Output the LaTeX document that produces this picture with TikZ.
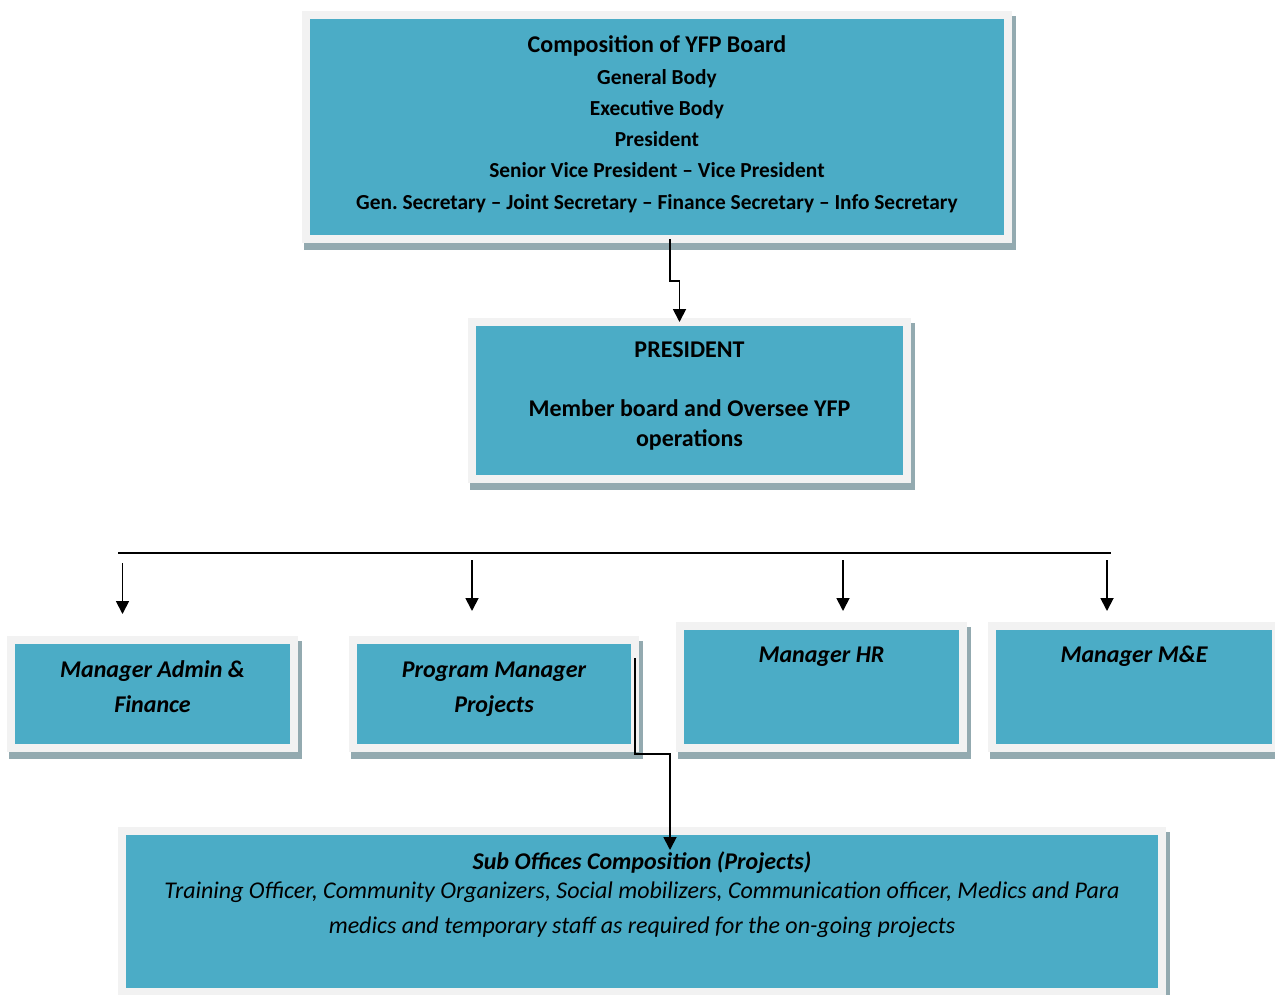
\documentclass[tikz,border=0pt]{standalone}
\usepackage{fontspec}
\setmainfont{Carlito}
\frenchspacing
\usetikzlibrary{arrows.meta,backgrounds}

\definecolor{boxteal}{HTML}{4BACC6}
\definecolor{boxframe}{HTML}{F2F2F2}
\definecolor{boxshade}{HTML}{93AAB0}

\tikzset{
  orgbox/.style={draw=boxframe,fill=boxteal,line width=8pt,inner sep=0pt,outer sep=0pt,anchor=north west},
  orgtxt/.style={align=center,anchor=base,inner sep=0pt},
  mgrtxt/.style={orgtxt,font=\bfseries\itshape\fontsize{24}{35}\selectfont},
  conn/.style={line width=1.8pt,-{Triangle[width=13pt,length=13pt]}},
}

\begin{document}
\begin{tikzpicture}[x=1pt,y=-1pt]
  \useasboundingbox (0,0) rectangle (1275,994);

  % boxes
  \node[orgbox,minimum width=702pt,minimum height=224pt] (board) at (306,15) {};
  \node[orgbox,minimum width=435pt,minimum height=157pt] (pres) at (472,322) {};
  \node[orgbox,minimum width=283pt,minimum height=108pt] (admin) at (11,640) {};
  \node[orgbox,minimum width=282pt,minimum height=108pt] (prog) at (353,640) {};
  \node[orgbox,minimum width=283pt,minimum height=122pt] (hr) at (680,626) {};
  \node[orgbox,minimum width=284pt,minimum height=122pt] (me) at (992,626) {};
  \node[orgbox,minimum width=1040pt,minimum height=161pt] (sub) at (122,831) {};

  \begin{scope}[on background layer]
    \foreach \b in {board,pres,admin,prog,hr,me,sub}
      \fill[boxshade] ([xshift=-2pt,yshift=-1pt]\b.north west) rectangle ([xshift=8pt,yshift=-11pt]\b.south east);
  \end{scope}

  % texts (base = last line)
  \node[orgtxt,font=\bfseries\fontsize{21.4}{31.2}\selectfont] (boardtxt) at (board.north |- 0,209)
    {{\fontsize{24}{31.2}\selectfont Composition of YFP Board}\\[1pt]General Body\\Executive Body\\President\\
     Senior Vice President -- Vice President\\
     Gen. Secretary -- Joint Secretary -- Finance Secretary -- Info Secretary};
  \node[orgtxt,font=\bfseries\fontsize{24}{29.5}\selectfont] (prestxt) at (pres.north |- 0,446)
    {PRESIDENT\\[29.5pt]Member board and Oversee YFP\\operations};
  \node[mgrtxt] (admintxt) at (admin.north |- 0,712) {Manager Admin \&\\Finance};
  \node[mgrtxt] (progtxt) at (prog.north |- 0,712) {Program Manager\\Projects};
  \node[mgrtxt] (hrtxt) at (hr.north |- 0,662) {Manager HR};
  \node[mgrtxt] (metxt) at (me.north |- 0,662) {Manager M\&E};
  \node[orgtxt,font=\itshape\fontsize{24}{29}\selectfont] (subtxt) at (sub.north |- 0,933)
    {{\bfseries Sub Offices Composition (Projects)}\\
     Training Officer, Community Organizers, Social mobilizers, Communication officer, Medics and Para\\[6pt]
     medics and temporary staff as required for the on-going projects};

  % connectors
  \draw[conn] ([xshift=13pt]board.south) -- ++(0,42) -| ([xshift=-10pt]pres.north);

  \coordinate (busL) at (118,553);
  \coordinate (busR) at (1111,553);
  \draw[line width=1.2pt] (busL) -- (busR);

  \draw[conn] ([xshift=-30pt,yshift=77pt]admin.north) -- ([xshift=-30pt,yshift=26pt]admin.north);
  \draw[conn] ([xshift=-22pt,yshift=80pt]prog.north) -- ([xshift=-22pt,yshift=29pt]prog.north);
  \draw[conn] ([xshift=21.5pt,yshift=66pt]hr.north) -- ([xshift=21.5pt,yshift=15pt]hr.north);
  \draw[conn] ([xshift=-27pt,yshift=66pt]me.north) -- ([xshift=-27pt,yshift=15pt]me.north);

  \draw[conn] ([yshift=36pt]prog.east) -- ++(0,96) -| ([xshift=28pt,yshift=-19pt]sub.north);
\end{tikzpicture}
\end{document}
